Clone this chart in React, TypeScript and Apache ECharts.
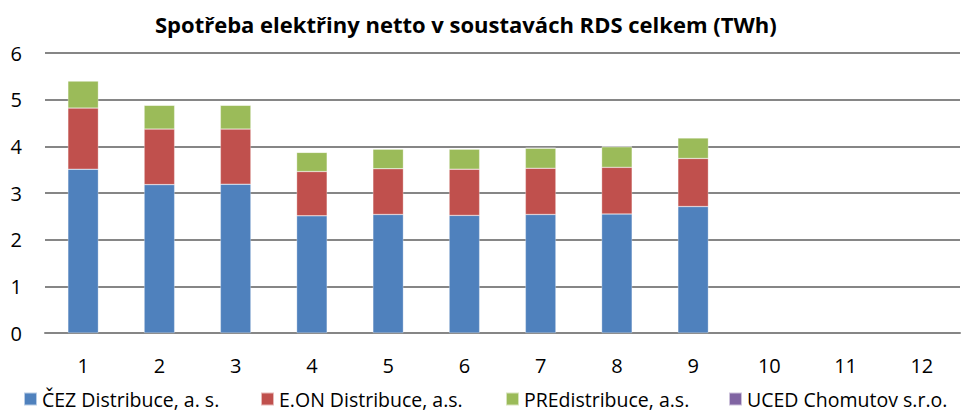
import React, { useEffect, useRef } from "react";
import * as echarts from "echarts";

const months = ["1", "2", "3", "4", "5", "6", "7", "8", "9", "10", "11", "12"];
const cez = [3.51, 3.18, 3.19, 2.51, 2.54, 2.52, 2.54, 2.55, 2.71];
const eon = [1.31, 1.19, 1.18, 0.95, 0.98, 0.99, 0.99, 1.0, 1.03];
const pre = [0.58, 0.51, 0.51, 0.41, 0.42, 0.43, 0.43, 0.44, 0.44];
const uced = [0.01, 0.01, 0.01, 0.01, 0.01, 0.01, 0.01, 0.01, 0.01];
const seriesNames = ["ČEZ Distribuce, a. s.", "E.ON Distribuce, a.s.", "PREdistribuce, a.s.", "UCED Chomutov s.r.o."];
const colors = ["#4F81BD", "#C0504D", "#9BBB59", "#8064A2"];
const legendLefts = [23, 260, 505, 728];

const FONT = '"Open Sans", sans-serif';

export default function App() {
  const ref = useRef<HTMLDivElement>(null);
  useEffect(() => {
    if (!ref.current) return;
    const chart = echarts.init(ref.current, null, { renderer: "svg" });
    const data = [cez, eon, pre, uced];
    chart.setOption({
      animation: false,
      color: colors,
      title: {
        text: "Spotřeba elektřiny netto v soustavách RDS celkem (TWh)",
        left: 150,
        top: 8,
        textStyle: { fontFamily: FONT, fontSize: 22, fontWeight: "bold", color: "#000" },
      },
      legend: seriesNames.map((name, i) => ({
        top: 389,
        left: legendLefts[i],
        itemWidth: 13,
        itemHeight: 13,
        itemGap: 0,
        icon: "rect",
        padding: 0,
        textStyle: { fontFamily: FONT, fontSize: 19.5, lineHeight: 18, color: "#000" },
        data: [name],
      })),
      grid: { left: 45, right: 2, top: 53, bottom: 79 },
      xAxis: {
        type: "category",
        data: months,
        axisLine: { lineStyle: { color: "#868686", width: 2 } },
        axisTick: { show: false },
        axisLabel: { fontFamily: FONT, fontSize: 20, color: "#000", margin: 22 },
      },
      yAxis: {
        type: "value",
        min: 0,
        max: 6,
        interval: 1,
        axisLine: { show: false },
        axisTick: { show: false },
        splitLine: { lineStyle: { color: "#868686", width: 2 } },
        axisLabel: { fontFamily: FONT, fontSize: 20, color: "#000", margin: 23 },
      },
      series: seriesNames.map((name, i) => ({
        name,
        type: "bar",
        stack: "total",
        barWidth: "40%",
        data: data[i],
        itemStyle: { color: colors[i], borderColor: "rgba(255,255,255,0.6)", borderWidth: 0.5 },
      })),
    });
    return () => chart.dispose();
  }, []);
  return (
    <div
      ref={ref}
      style={{ position: "absolute", left: 0, top: 0, width: 962, height: 412, overflow: "hidden" }}
    />
  );
}
